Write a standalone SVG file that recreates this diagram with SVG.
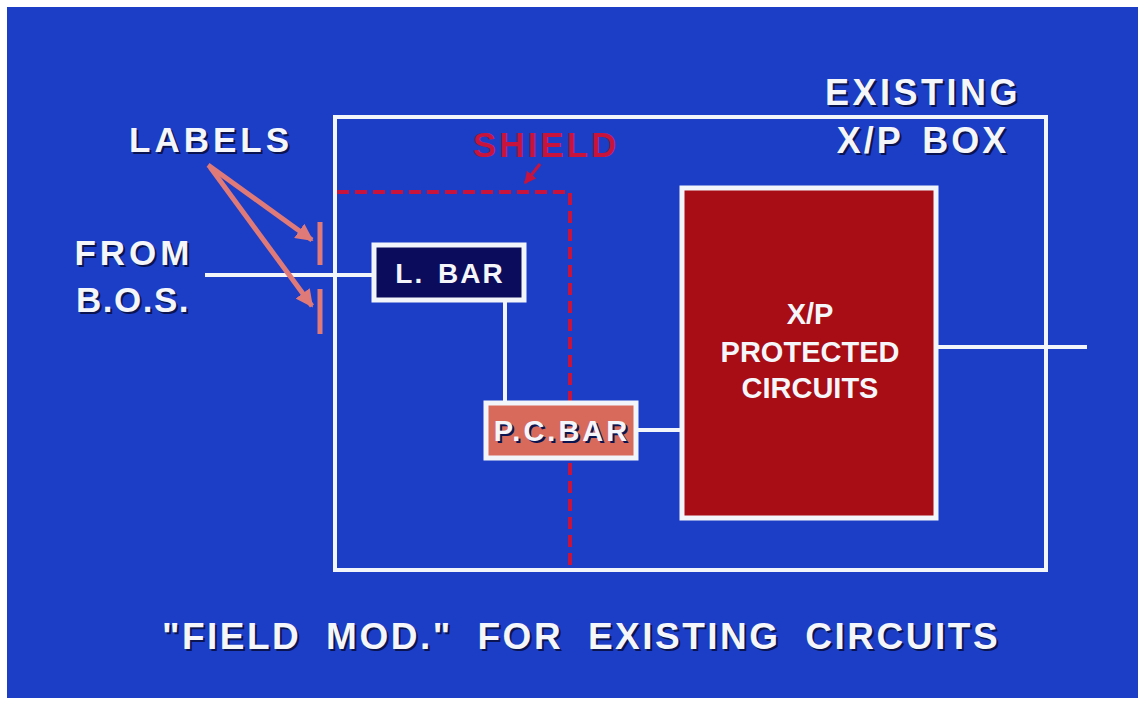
<svg xmlns="http://www.w3.org/2000/svg" width="1142" height="703" viewBox="0 0 1142 703">
<defs>
<style>
.t{font-family:"Liberation Sans",Arial,sans-serif;font-weight:bold;fill:#f4f6fa}
.sh{fill:#0a1450}
.w{stroke:#f2f6fa;stroke-width:4;fill:none}
.pk{stroke:#e07a78;stroke-width:5;fill:none}
.sd{stroke:#c8143c;stroke-width:4;fill:none;stroke-dasharray:12 6}
</style>
<marker id="ah" viewBox="0 0 10 10" refX="9" refY="5" markerWidth="3.5" markerHeight="3.5" orient="auto"><path d="M0,0L10,5L0,10z" fill="#e07a78"/></marker>
<marker id="ahr" viewBox="0 0 10 10" refX="9" refY="5" markerWidth="4" markerHeight="4" orient="auto"><path d="M0,0L10,5L0,10z" fill="#c8143c"/></marker>
</defs>
<rect width="1142" height="703" fill="#ffffff"/>
<rect x="7" y="7" width="1131" height="691" fill="#1c3ec6"/>
<g id="connectors">
<line class="w" x1="205" y1="275" x2="374" y2="275"/>
<line class="w" x1="505" y1="300" x2="505" y2="403"/>
<line class="w" x1="636" y1="430" x2="682" y2="430"/>
<line class="w" x1="936" y1="347" x2="1087" y2="347"/>
<line class="pk" x1="208" y1="165" x2="312" y2="240" marker-end="url(#ah)"/>
<line class="pk" x1="210" y1="167" x2="312" y2="306" marker-end="url(#ah)"/>
<line class="pk" x1="320" y1="222" x2="320" y2="265"/>
<line class="pk" x1="320" y1="289" x2="320" y2="334"/>
<line x1="540" y1="164" x2="525" y2="183" stroke="#c8143c" stroke-width="3" marker-end="url(#ahr)"/>
</g>
<g id="existing-box">
<rect class="w" x="335" y="117" width="711" height="453"/>
<text class="t sh" x="925" y="107" font-size="36" text-anchor="middle" letter-spacing="3.5">EXISTING</text>
<text class="t" x="923" y="105" font-size="36" text-anchor="middle" letter-spacing="3.5">EXISTING</text>
<text class="t sh" x="925" y="155" font-size="36" text-anchor="middle" letter-spacing="3" word-spacing="6">X/P BOX</text>
<text class="t" x="923" y="153" font-size="36" text-anchor="middle" letter-spacing="3" word-spacing="6">X/P BOX</text>
</g>
<g id="shield">
<path class="sd" d="M337,192 H570 V568"/>
<text x="546" y="157" font-size="35" text-anchor="middle" letter-spacing="3" font-family="Liberation Sans,Arial,sans-serif" font-weight="bold" fill="#c8143c">SHIELD</text>
</g>
<g id="labels">
<text class="t sh" x="213" y="154" font-size="35" text-anchor="middle" letter-spacing="4">LABELS</text>
<text class="t" x="211" y="152" font-size="35" text-anchor="middle" letter-spacing="4">LABELS</text>
</g>
<g id="from-bos">
<text class="t sh" x="136" y="267" font-size="35" text-anchor="middle" letter-spacing="4">FROM</text>
<text class="t" x="134" y="265" font-size="35" text-anchor="middle" letter-spacing="4">FROM</text>
<text class="t sh" x="135" y="314" font-size="35" text-anchor="middle" letter-spacing="1.5">B.O.S.</text>
<text class="t" x="133" y="312" font-size="35" text-anchor="middle" letter-spacing="1.5">B.O.S.</text>
</g>
<g id="l-bar">
<rect x="374" y="245" width="150" height="55" fill="#0c0c5c" stroke="#f2f6fa" stroke-width="5"/>
<text class="t" x="450" y="283" font-size="28" text-anchor="middle" letter-spacing="2" word-spacing="4">L. BAR</text>
</g>
<g id="pc-bar">
<rect x="486" y="403" width="150" height="55" fill="#d86a5c" stroke="#f2f6fa" stroke-width="5"/>
<text class="t sh" x="564" y="443" font-size="29" text-anchor="middle" letter-spacing="3">P.C.BAR</text>
<text class="t" x="562" y="441" font-size="29" text-anchor="middle" letter-spacing="3">P.C.BAR</text>
</g>
<g id="xp-protected">
<rect x="682" y="188" width="254" height="330" fill="#a80c14" stroke="#f2f6fa" stroke-width="5"/>
<text class="t" x="810" y="324" font-size="29" text-anchor="middle">X/P</text>
<text class="t" x="810" y="362" font-size="29" text-anchor="middle">PROTECTED</text>
<text class="t" x="810" y="398" font-size="29" text-anchor="middle">CIRCUITS</text>
</g>
<g id="caption">
<text class="t sh" x="583" y="651" font-size="37" text-anchor="middle" letter-spacing="2.5" word-spacing="12">"FIELD MOD." FOR EXISTING CIRCUITS</text>
<text class="t" x="581" y="649" font-size="37" text-anchor="middle" letter-spacing="2.5" word-spacing="12">"FIELD MOD." FOR EXISTING CIRCUITS</text>
</g>
</svg>
